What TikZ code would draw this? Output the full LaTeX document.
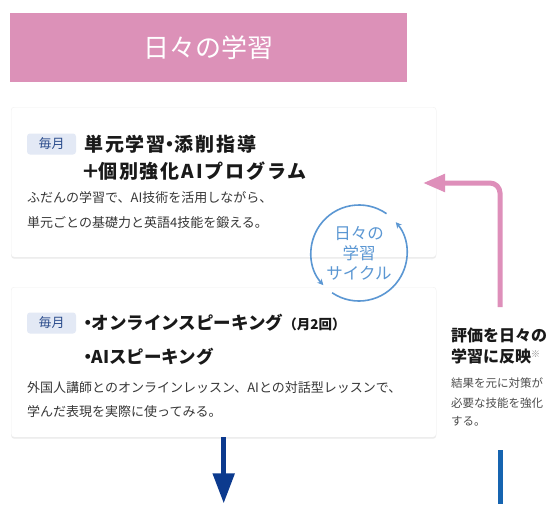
\documentclass[tikz,border=0pt]{standalone}
\usepackage{fontspec}
\setmainfont{Noto Sans CJK JP}
\newfontfamily\titreespace[LetterSpace=10]{Noto Sans CJK JP}
\usetikzlibrary{positioning, arrows.meta, shadows}
\definecolor{rosetete}{RGB}{220,145,184}
\definecolor{rosefleche}{RGB}{222,143,186}
\definecolor{tagfond}{RGB}{227,233,245}
\definecolor{tagtexte}{RGB}{43,76,140}
\definecolor{bleucycle}{RGB}{91,151,211}
\definecolor{bleufonce}{RGB}{12,58,142}
\definecolor{bleuligne}{RGB}{22,100,176}
\definecolor{textegris}{RGB}{55,55,55}
\newcommand{\pointmilieu}{\kern-5pt・\kern-5pt}
\tikzset{
  carte/.style={draw=black!6, fill=white, rounded corners=3pt, anchor=north west,
    minimum width=425pt, minimum height=150pt, inner sep=0pt,
    drop shadow={shadow xshift=0pt, shadow yshift=-1.5pt, opacity=0.16}},
  etiquette/.style={fill=tagfond, rounded corners=3pt, text=tagtexte,
    minimum width=49pt, minimum height=21pt, inner sep=0pt, font=\fontsize{13}{13}\selectfont},
  titre/.style={anchor=west, inner sep=0pt, text=black!90, font=\titreespace\fontsize{19}{19}\selectfont\bfseries},
  titrebis/.style={anchor=west, inner sep=0pt, text=black!90, font=\fontsize{17.5}{17.5}\selectfont\bfseries},
  corps/.style={anchor=west, inner sep=0pt, text=textegris, font=\fontsize{13}{13}\selectfont},
  cote/.style={anchor=west, inner sep=0pt, text=black!90, font=\fontsize{16}{16}\selectfont\bfseries},
  cotecorps/.style={anchor=west, inner sep=0pt, text=black!70, font=\fontsize{11.5}{11.5}\selectfont},
  cycletexte/.style={text=bleucycle, align=center, inner sep=0pt, font=\fontsize{16.5}{20}\selectfont},
  arccycle/.style={draw=bleucycle, line width=1.6pt, -{Stealth[length=6pt, width=6pt]}}
}
\begin{document}
\begin{tikzpicture}[x=1pt, y=1pt]
  \useasboundingbox[fill=white] (0,0) rectangle (560,-504);
  % bandeau du haut
  \node[fill=rosetete, anchor=north west, minimum width=397pt, minimum height=69pt, inner sep=0pt] (bandeau) at (10,-13) {};
  \node[text=white, font=\fontsize{26}{26}\selectfont] (bandeautexte) at (bandeau.center) {日々の学習};
  % cartes
  \node[carte] (carte1) at (11,-107) {};
  \node[carte] (carte2) at (11,-287) {};
  % carte 1
  \node[etiquette] (tag1) at (51.5,-144) {毎月};
  \node[titre] (titre1a) at (84,-144) {単元学習\pointmilieu 添削指導};
  \node[titre] (titre1b) at (84,-171) {\kern-3pt＋\kern-2pt個別強化AIプログラム};
  \node[corps] (corps1a) at (27,-198) {ふだんの学習で、AI技術を活用しながら、};
  \node[corps] (corps1b) at (27,-223) {単元ごとの基礎力と英語4技能を鍛える。};
  % carte 2
  \node[etiquette] (tag2) at (51.5,-323) {毎月};
  \node[titrebis] (titre2a) at (84,-323) {\pointmilieu オンラインスピーキング\fontsize{13.5}{13.5}\selectfont（月2回）};
  \node[titrebis] (titre2b) at (84,-357) {\pointmilieu AIスピーキング};
  \node[corps] (corps2a) at (27,-388) {外国人講師とのオンラインレッスン、AIとの対話型レッスンで、};
  \node[corps] (corps2b) at (27,-412) {学んだ表現を実際に使ってみる。};
  % cycle
  \node[cycletexte] (cycle) at (359,-253) {日々の\\学習\\サイクル};
  \begin{scope}[shift={(cycle.center)}]
    \draw[arccycle] (55:48) arc[start angle=55, end angle=222, radius=48];
    \draw[arccycle] (236:48) arc[start angle=236, end angle=400, radius=48];
  \end{scope}
  % fleche rose
  \coordinate (rosedepart) at (500,-307);
  \coordinate (rosefin) at (423,-183);
  \draw[rosefleche, line width=5pt, rounded corners=10pt, -{Triangle[length=22pt, width=17pt]}] (rosedepart) |- (rosefin);
  % texte de droite
  \node[cote] (cote1) at (451,-335) {評価を日々の};
  \node[cote] (cote2) at (451,-356) {学習に反映\textcolor{black!45}{\fontsize{9}{9}\selectfont\raisebox{5pt}{※}}};
  \node[cotecorps] (cotecorps1) at (451,-383) {結果を元に対策が};
  \node[cotecorps] (cotecorps2) at (451,-403) {必要な技能を強化};
  \node[cotecorps] (cotecorps3) at (451,-421) {する。};
  % fleches du bas
  \draw[bleufonce, line width=5pt, -{Triangle[length=30pt, width=21pt]}] (carte2.south) -- ++(0,-66);
  \coordinate (lignehaut) at (500,-450);
  \coordinate (lignebas) at (500,-504);
  \draw[bleuligne, line width=5pt] (lignehaut) -- (lignebas);
\end{tikzpicture}
\end{document}
